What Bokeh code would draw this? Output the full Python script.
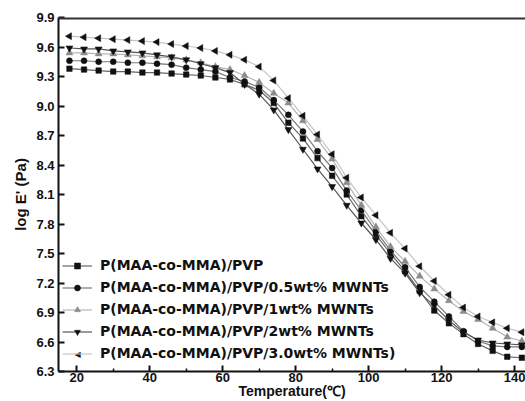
import math
from bokeh.plotting import figure
from bokeh.models import (Range1d, FixedTicker, Label, Legend, LegendItem,
                          PrintfTickFormatter, Span)
from bokeh.embed import file_html
from bokeh.resources import INLINE

# ---------------- data ----------------
temperature = [18, 22, 26, 30, 34, 38, 42, 46, 50, 54, 58, 62, 66, 70, 74, 78,
               82, 86, 90, 94, 98, 102, 106, 110, 114, 118, 122, 126, 130, 134, 138, 142]

pvp = [9.38, 9.37, 9.36, 9.35, 9.35, 9.34, 9.34, 9.33, 9.32, 9.31, 9.29, 9.27,
       9.22, 9.16, 9.03, 8.83, 8.67, 8.47, 8.29, 8.10, 7.88, 7.69, 7.50, 7.32,
       7.12, 6.92, 6.79, 6.68, 6.58, 6.51, 6.45, 6.44]

mwnt_05 = [9.46, 9.46, 9.45, 9.45, 9.44, 9.44, 9.43, 9.42, 9.39, 9.37, 9.35, 9.29,
           9.25, 9.19, 9.06, 8.91, 8.74, 8.54, 8.37, 8.14, 7.94, 7.73, 7.53, 7.36,
           7.16, 7.01, 6.86, 6.71, 6.61, 6.56, 6.55, 6.55]

mwnt_1 = [9.54, 9.54, 9.53, 9.53, 9.52, 9.51, 9.50, 9.49, 9.47, 9.44, 9.40, 9.37,
          9.31, 9.24, 9.13, 9.03, 8.85, 8.66, 8.46, 8.22, 7.99, 7.77, 7.57, 7.42,
          7.27, 7.14, 7.02, 6.91, 6.83, 6.74, 6.65, 6.61]

mwnt_2 = [9.59, 9.58, 9.58, 9.56, 9.55, 9.54, 9.52, 9.50, 9.47, 9.43, 9.39, 9.34,
          9.22, 9.12, 8.96, 8.76, 8.56, 8.36, 8.18, 7.99, 7.81, 7.64, 7.45, 7.30,
          7.10, 6.97, 6.82, 6.70, 6.62, 6.59, 6.58, 6.57]

mwnt_3 = [9.71, 9.70, 9.69, 9.68, 9.67, 9.66, 9.65, 9.63, 9.61, 9.59, 9.56, 9.52,
          9.47, 9.40, 9.26, 9.08, 8.90, 8.71, 8.51, 8.27, 8.07, 7.89, 7.71, 7.55,
          7.37, 7.22, 7.08, 6.95, 6.86, 6.80, 6.74, 6.70]

series_labels = ["P(MAA-co-MMA)/PVP",
                 "P(MAA-co-MMA)/PVP/0.5wt% MWNTs",
                 "P(MAA-co-MMA)/PVP/1wt% MWNTs",
                 "P(MAA-co-MMA)/PVP/2wt% MWNTs",
                 "P(MAA-co-MMA)/PVP/3.0wt% MWNTs)"]

x_ticks = [20, 40, 60, 80, 100, 120, 140]
y_ticks = [6.3, 6.6, 6.9, 7.2, 7.5, 7.8, 8.1, 8.4, 8.7, 9.0, 9.3, 9.6, 9.9]

# ---------------- figure ----------------
FONT = "Liberation Sans"
INK = "#111111"

p = figure(width=525, height=401, output_backend="svg", toolbar_location=None,
           x_range=Range1d(15, 143), y_range=Range1d(6.3, 9.9),
           min_border_left=58, min_border_right=0, min_border_top=17,
           min_border_bottom=29)
p.grid.visible = False
p.outline_line_color = None
p.background_fill_color = "white"
p.border_fill_color = "white"

for ax in (p.xaxis[0], p.yaxis[0]):
    ax.axis_line_width = 2
    ax.axis_line_color = INK
    ax.major_tick_in = 6
    ax.major_tick_out = 0
    ax.major_tick_line_width = 2
    ax.major_tick_line_color = INK
    ax.minor_tick_in = 3
    ax.minor_tick_out = 0
    ax.minor_tick_line_width = 1.5
    ax.minor_tick_line_color = INK
    ax.major_label_text_font = FONT
    ax.major_label_text_font_style = "bold"
    ax.major_label_text_font_size = "13px"
    ax.major_label_text_color = INK
    ax.axis_label_text_font = FONT
    ax.axis_label_text_font_style = "bold"
    ax.axis_label_text_color = INK

p.xaxis.ticker = FixedTicker(ticks=x_ticks,
                             minor_ticks=[t + 10 for t in x_ticks[:-1]])
p.xaxis.major_label_standoff = 1
p.xaxis.axis_label = "Temperature(\u2103)"
p.xaxis.axis_label_text_font_size = "14px"
p.xaxis.axis_label_standoff = -2

p.yaxis.ticker = FixedTicker(ticks=y_ticks)
p.yaxis.formatter = PrintfTickFormatter(format="%.1f")
p.yaxis.minor_tick_line_color = None
p.yaxis.major_label_standoff = 4
p.yaxis.axis_label = "log E' (Pa)"
p.yaxis.axis_label_text_font_size = "15px"
p.yaxis.axis_label_standoff = 4

# top border of the frame (the right border lies outside the picture)
p.add_layout(Span(location=y_ticks[-1], dimension="width",
                  line_color="#333333", line_width=4))

styles = [
    dict(marker="square", size=5.5, fill=INK, line="#666666", angle=0.0),
    dict(marker="circle", size=6, fill=INK, line="#777777", angle=0.0),
    dict(marker="triangle", size=7, fill="#8c8c8c", line="#b5b5b5", angle=0.0),
    dict(marker="inverted_triangle", size=7, fill=INK, line="#555555", angle=0.0),
    dict(marker="triangle", size=7, fill=INK, line="#c4c4c4", angle=math.pi / 2),
]
all_series = [pvp, mwnt_05, mwnt_1, mwnt_2, mwnt_3]

items = []
for ys, st, lab in zip(all_series, styles, series_labels):
    lr = p.line(temperature, ys, line_color=st["line"], line_width=1.2)
    sr = p.scatter(temperature, ys, marker=st["marker"], size=st["size"],
                   angle=st["angle"], fill_color=st["fill"],
                   line_color=st["fill"], line_width=0.5)
    # legend glyphs cannot be rotated, so the left-pointing marker of the
    # last entry is drawn as a text symbol below
    rends = [lr] if st["angle"] else [lr, sr]
    items.append(LegendItem(label=lab, renderers=rends))

LEG_X, LEG_Y, ROW_H, GAP = 4, 10, 15, 6
legend = Legend(items=items, location=(LEG_X, LEG_Y), orientation="vertical",
                background_fill_alpha=0, border_line_color=None,
                padding=0, margin=0, spacing=GAP,
                glyph_width=30, glyph_height=ROW_H, label_height=ROW_H,
                label_standoff=8, label_text_font="DejaVu Sans",
                label_text_font_style="bold", label_text_font_size="14px",
                label_text_color=INK)
p.add_layout(legend)

left_tri = Label(x=LEG_X + 15, y=LEG_Y + ROW_H / 2, x_units="screen",
                 y_units="screen", text="\u25C0", text_align="center",
                 text_baseline="middle", text_font="DejaVu Sans",
                 text_font_size="8px", text_color=INK)
p.add_layout(left_tri)

open("out.html", "w").write(file_html(p, INLINE))
